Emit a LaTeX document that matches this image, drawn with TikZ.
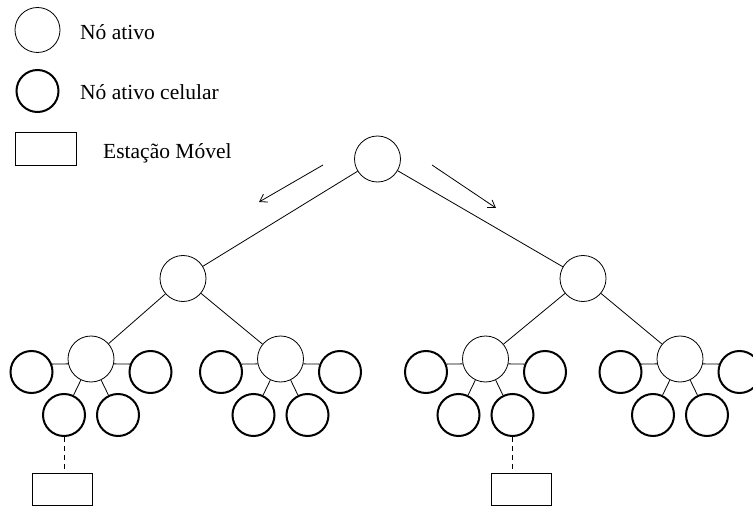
\documentclass[tikz,border=0pt]{standalone}
\usepackage{fontspec}
\setmainfont{Liberation Serif}
\usetikzlibrary{arrows.meta}
\begin{document}
\begin{tikzpicture}[x=1pt,y=-1pt,
  active/.style={circle,draw,line width=0.8pt,inner sep=0pt,minimum size=46pt},
  cell/.style={circle,draw,line width=2pt,inner sep=0pt,minimum size=42pt},
  station/.style={rectangle,draw,line width=0.8pt,inner sep=0pt,minimum width=60pt,minimum height=32pt},
  link/.style={line width=0.8pt},
  radio/.style={line width=0.8pt,dashed,dash pattern=on 5pt off 4pt},
  flow/.style={line width=0.8pt,-{Straight Barb[length=7pt,width=9pt]}},
  label/.style={anchor=base west,inner sep=0pt,font=\fontsize{21.5pt}{24pt}\selectfont}]
\useasboundingbox (0,0) rectangle (753,508);
\begin{scope}
\clip (0,0) rectangle (753,508);

% legend
\node[active,minimum size=45pt] (lgA) at (37.5,30) {};
\node[label] (txA) at (80,40) {Nó ativo};
\node[cell] (lgC) at (37.5,91) {};
\node[label] (txC) at (80,100) {Nó ativo celular};
\node[station,minimum width=61pt,minimum height=33pt] (lgS) at (45.5,148.5) {};
\node[label] (txS) at (103,159) {Estação Móvel};

% backbone of active nodes
\node[active] (root) at (377.5,159) {};
\node[active] (L) at (183,278.5) {};
\node[active] (R) at (583,278.5) {};
\draw[link] (root) -- (L);
\draw[link] (root) -- (R);

% direction arrows
\coordinate (a1s) at (323,165);
\coordinate (a1e) at (259,202);
\coordinate (a2s) at (432,165);
\coordinate (a2e) at (496,208);
\draw[flow] (a1s) -- (a1e);
\draw[flow] (a2s) -- (a2e);

% clusters: active node with four cellular neighbours
\foreach \n/\cx in {1/91, 2/280.5, 3/485.5, 4/680} {
  \node[active] (c\n) at (\cx,359) {};
  \node[cell] (w\n) at (\cx-59.5,372) {};
  \node[cell] (e\n) at (\cx+59.5,372) {};
  \node[cell] (s\n) at (\cx-27,415) {};
  \node[cell] (t\n) at (\cx+27,415) {};
  \draw[link] (w\n.21) -- (c\n.192);
  \draw[link] (c\n.-12) -- (e\n.159);
  \draw[link] (c\n) -- (s\n);
  \draw[link] (c\n) -- (t\n);
}
\draw[link] (L) -- (c1);
\draw[link] (L) -- (c2);
\draw[link] (R) -- (c3);
\draw[link] (R) -- (c4);

% mobile stations
\node[station] (m1) at (62,489) {};
\node[station] (m2) at (521,489) {};
\draw[radio] (s1.south) -- (s1.south |- m1.north);
\draw[radio] (t3.south) -- (t3.south |- m2.north);
\end{scope}
\end{tikzpicture}
\end{document}
